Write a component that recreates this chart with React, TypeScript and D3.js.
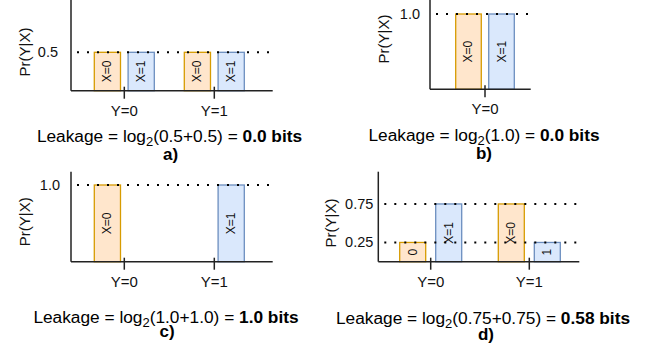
import React, { useEffect, useRef } from "react";
import * as d3 from "d3";

// categories
const groups = ["Y=0", "Y=1"];
const xKeys = ["X=0", "X=1"];

// Pr(Y|X) for each panel, [group][x]; null = no bar
const valuesA = [[0.5, 0.5], [0.5, 0.5]];
const valuesB = [[1.0, 1.0]];
const valuesC = [[1.0, null], [null, 1.0]];
const valuesD = [[0.25, 0.75], [0.75, 0.25]];

// text written inside the bars of panel d (short bars only hold the value)
const barTextD = [["0", "X=1"], ["X=0", "1"]];

// y tick values
const ticksA = [0.5];
const ticksB = [1.0];
const ticksC = [1.0];
const ticksD = [0.25, 0.75];

// captions
const formulas = ["0.5+0.5", "1.0", "1.0+1.0", "0.75+0.75"];
const results = ["0.0 bits", "0.0 bits", "1.0 bits", "0.58 bits"];
const tags = ["a)", "b)", "c)", "d)"];

const FONT = "'Liberation Sans', Arial, Helvetica, sans-serif";
const ORANGE_FILL = "#ffe6cc";
const ORANGE_STROKE = "#d79b00";
const BLUE_FILL = "#dae8fc";
const BLUE_STROKE = "#6c8ebf";

// layout of the four panels
const panels = [
  { vals: valuesA, text: null, ticks: ticksA, fmt: ".1f",
    ax: 71, top: 0, bottom: 90.7, right: 272.7, unit: 76.8, gx: [124.3, 214.3], inner: 30, pad: 0.225,
    tickEnd: 58, titleX: 24, titleY: 52, capX: 169.5, capY: 142, tagX: 170.5, tagY: 160 },
  { vals: valuesB, text: null, ticks: ticksB, fmt: ".1f",
    ax: 430, top: 0, bottom: 89.3, right: 530.7, unit: 75.3, gx: [485, 485], inner: 29.3, pad: 0.225,
    tickEnd: 420, titleX: 383.3, titleY: 39, capX: 484, capY: 140.5, tagX: 484, tagY: 159 },
  { vals: valuesC, text: null, ticks: ticksC, fmt: ".1f",
    ax: 71, top: 171.7, bottom: 261.7, right: 272.7, unit: 76.7, gx: [124.3, 214.3], inner: 30, pad: 0.225,
    tickEnd: 60, titleX: 24, titleY: 221.7, capX: 166, capY: 322.5, tagX: 167, tagY: 337 },
  { vals: valuesD, text: barTextD, ticks: ticksD, fmt: ".2f",
    ax: 378.3, top: 171.7, bottom: 261.7, right: 579.3, unit: 77, gx: [430.7, 529.3], inner: 31, pad: 0.278,
    tickEnd: 373.3, titleX: 330, titleY: 223, capX: 483, capY: 323.5, tagX: 486, tagY: 339.5 },
];

const App = () => {
  const svgRef = useRef<SVGSVGElement>(null);

  useEffect(() => {
    const svg = d3.select(svgRef.current);
    svg.selectAll("*").remove();

    panels.forEach((p, pi) => {
      const g = svg.append("g");
      const y = d3.scaleLinear().domain([0, 1]).range([p.bottom, p.bottom - p.unit]);
      const x = d3.scalePoint<string>().domain(groups.slice(0, p.vals.length)).range(p.gx);
      const xi = d3.scaleBand<string>().domain(xKeys).range([-p.inner, p.inner]).paddingInner(p.pad);

      // bars
      p.vals.forEach((row, gi) => {
        row.forEach((v, k) => {
          if (v == null) return;
          const x0 = x(groups[gi])! + xi(xKeys[k])!;
          const w = xi.bandwidth();
          g.append("rect")
            .attr("x", x0)
            .attr("y", y(v))
            .attr("width", w)
            .attr("height", y(0) - y(v))
            .attr("fill", k === 0 ? ORANGE_FILL : BLUE_FILL)
            .attr("stroke", k === 0 ? ORANGE_STROKE : BLUE_STROKE)
            .attr("stroke-width", 1.3);
          const label = p.text ? p.text[gi][k] : xKeys[k];
          const cy = (y(v) + y(0)) / 2;
          g.append("text")
            .attr("transform", `translate(${x0 + w / 2},${cy}) rotate(-90)`)
            .attr("text-anchor", "middle")
            .attr("dominant-baseline", "central")
            .attr("font-family", FONT)
            .attr("font-size", 12)
            .attr("fill", "#111")
            .text(label);
        });
      });

      // dotted reference lines
      p.ticks.forEach((t) => {
        g.append("line")
          .attr("x1", p.ax + 6)
          .attr("x2", p.right - 1)
          .attr("y1", y(t))
          .attr("y2", y(t))
          .attr("stroke", "#000")
          .attr("stroke-width", 2)
          .attr("stroke-dasharray", "2,8");
        g.append("text")
          .attr("x", p.tickEnd)
          .attr("y", y(t))
          .attr("text-anchor", "end")
          .attr("dominant-baseline", "central")
          .attr("font-family", FONT)
          .attr("font-size", 14.5)
          .attr("fill", "#111")
          .text(d3.format(p.fmt)(t));
      });

      // axes
      g.append("line")
        .attr("x1", p.ax).attr("x2", p.ax)
        .attr("y1", p.top).attr("y2", p.bottom)
        .attr("stroke", "#222").attr("stroke-width", 1.5);
      g.append("line")
        .attr("x1", p.ax).attr("x2", p.right)
        .attr("y1", p.bottom).attr("y2", p.bottom)
        .attr("stroke", "#222").attr("stroke-width", 1.5);

      // group ticks + labels
      x.domain().forEach((c) => {
        g.append("line")
          .attr("x1", x(c)!).attr("x2", x(c)!)
          .attr("y1", p.bottom - 4).attr("y2", p.bottom + 8)
          .attr("stroke", "#222").attr("stroke-width", 1.5);
        g.append("text")
          .attr("x", x(c)!)
          .attr("y", p.bottom + 19.5)
          .attr("text-anchor", "middle")
          .attr("dominant-baseline", "central")
          .attr("font-family", FONT)
          .attr("font-size", 15)
          .attr("fill", "#111")
          .text(c);
      });

      // y title
      g.append("text")
        .attr("transform", `translate(${p.titleX},${p.titleY}) rotate(-90)`)
        .attr("text-anchor", "middle")
        .attr("dominant-baseline", "central")
        .attr("font-family", FONT)
        .attr("font-size", 15)
        .attr("fill", "#111")
        .text("Pr(Y|X)");

      // caption
      const cap = g.append("text")
        .attr("x", p.capX)
        .attr("y", p.capY)
        .attr("text-anchor", "middle")
        .attr("font-family", FONT)
        .attr("font-size", 17.3)
        .attr("fill", "#000");
      cap.append("tspan").text("Leakage = log");
      cap.append("tspan").attr("dy", 4).attr("font-size", 13).text("2");
      cap.append("tspan").attr("dy", -4).text(`(${formulas[pi]}) = `);
      cap.append("tspan").attr("font-weight", "bold").text(results[pi]);

      g.append("text")
        .attr("x", p.tagX)
        .attr("y", p.tagY)
        .attr("text-anchor", "middle")
        .attr("font-family", FONT)
        .attr("font-size", 17)
        .attr("font-weight", "bold")
        .attr("fill", "#000")
        .text(tags[pi]);
    });
  }, []);

  return (
    <svg
      ref={svgRef}
      width={660}
      height={350}
      style={{ position: "absolute", left: 0, top: 0, background: "#fff" }}
    />
  );
};

export default App;
